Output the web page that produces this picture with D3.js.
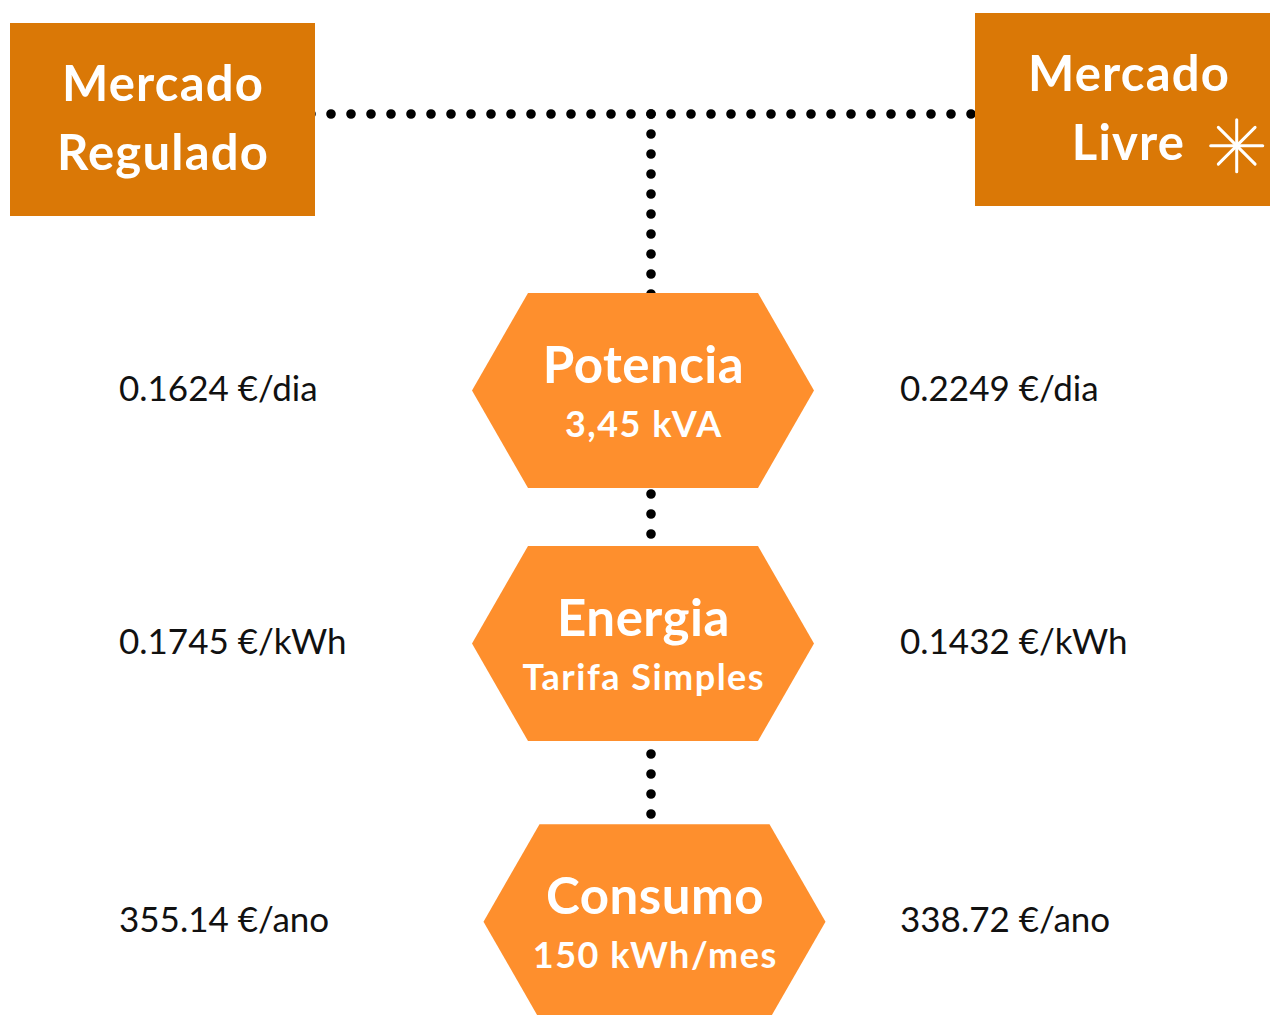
<!DOCTYPE html>
<html><head><meta charset="utf-8">
<script src="https://cdn.jsdelivr.net/npm/d3@7"></script>
<style>html,body{margin:0;padding:0;background:#fff;overflow:hidden}</style>
</head><body>
<svg id="c" width="1270" height="1015"></svg>
<script>
// ---- data ----
const categories = ["Potencia", "Energia", "Consumo"];
const subtitles = ["3,45 kVA", "Tarifa Simples", "150 kWh/mes"];
const regulado = [0.1624, 0.1745, 355.14];
const livre = [0.2249, 0.1432, 338.72];
const units = ["€/dia", "€/kWh", "€/ano"];
const marketTitles = [["Mercado", "Regulado"], ["Mercado", "Livre"]];

// ---- layout ----
const W = 1270, H = 1015;
const svg = d3.select("#c");
const FONT = "Lato, 'Open Sans', sans-serif";
const boxColor = "#DA7806", hexColor = "#FE8F2D";

const hexCY = [390.5, 643.5, 921.7];
const hexCX = [643, 643, 654.5];
const yRow = d3.scaleOrdinal().domain(categories).range(hexCY);
const xRow = d3.scaleOrdinal().domain(categories).range(hexCX);

// dotted connectors
const dot = {stroke: "#000", "stroke-width": 9.6, "stroke-linecap": "round", "stroke-dasharray": "0 20"};
function dotted(x1, y1, x2, y2) {
  const l = svg.append("line").attr("x1", x1).attr("y1", y1).attr("x2", x2).attr("y2", y2);
  Object.entries(dot).forEach(([k, v]) => l.attr(k, v));
}
dotted(311, 114, 980, 114);
dotted(651, 114, 651, 1030);

// market boxes
const boxes = [{x: 10, y: 23, w: 305, h: 193}, {x: 975, y: 13, w: 300, h: 193}];
const boxG = svg.selectAll("g.box").data(marketTitles).join("g").attr("class", "box");
boxG.append("rect")
  .attr("x", (d, i) => boxes[i].x).attr("y", (d, i) => boxes[i].y)
  .attr("width", (d, i) => boxes[i].w).attr("height", (d, i) => boxes[i].h)
  .attr("fill", boxColor);
const titlePos = [[163, 101, 163, 170], [1129, 91, 1128.5, 160]];
boxG.each(function(d, i) {
  const g = d3.select(this);
  d.forEach((t, j) => {
    g.append("text").text(t)
      .attr("x", titlePos[i][j * 2]).attr("y", titlePos[i][j * 2 + 1])
      .attr("text-anchor", "middle").attr("fill", "#fff")
      .attr("letter-spacing", 1.2)
      .attr("font-family", FONT).attr("font-weight", 700).attr("font-size", 49);
  });
});
// asterisk
const ast = svg.append("g").attr("transform", "translate(1236.7,145.7)");
d3.range(4).forEach(k => {
  const a = k * Math.PI / 4, r = 26;
  ast.append("line")
    .attr("x1", -r * Math.cos(a)).attr("y1", -r * Math.sin(a))
    .attr("x2", r * Math.cos(a)).attr("y2", r * Math.sin(a))
    .attr("stroke", "#fff").attr("stroke-width", 3).attr("stroke-linecap", "round");
});

// hexagons
const hw = 171, hi = 115, hh = 97.5;
const hexPath = (cx, cy) => d3.line()([
  [cx - hi, cy - hh], [cx + hi, cy - hh], [cx + hw, cy],
  [cx + hi, cy + hh], [cx - hi, cy + hh], [cx - hw, cy]]) + "Z";
const hexG = svg.selectAll("g.hex").data(categories).join("g").attr("class", "hex");
hexG.append("path").attr("d", d => hexPath(xRow(d), yRow(d))).attr("fill", hexColor);
hexG.append("text").text(d => d)
  .attr("x", d => xRow(d) + 0.5).attr("y", d => yRow(d) - 7.5)
  .attr("text-anchor", "middle").attr("fill", "#fff")
  .attr("letter-spacing", 0.5)
  .attr("font-family", FONT).attr("font-weight", 700).attr("font-size", 51);
hexG.append("text").text((d, i) => subtitles[i])
  .attr("x", d => xRow(d) + 0.8).attr("y", d => yRow(d) + 46.5)
  .attr("text-anchor", "middle").attr("fill", "#fff")
  .attr("letter-spacing", 1.5)
  .attr("font-family", FONT).attr("font-weight", 700).attr("font-size", 36);

// values
function values(arr, x) {
  svg.append("g").selectAll("text").data(arr).join("text")
    .text((d, i) => String(d) + " " + units[i])
    .attr("x", x).attr("y", (d, i) => yRow(categories[i]) + 10)
    .attr("fill", "#111").attr("font-family", FONT).attr("font-size", 35);
}
values(regulado, 119);
values(livre, 900);
</script>
</body></html>
